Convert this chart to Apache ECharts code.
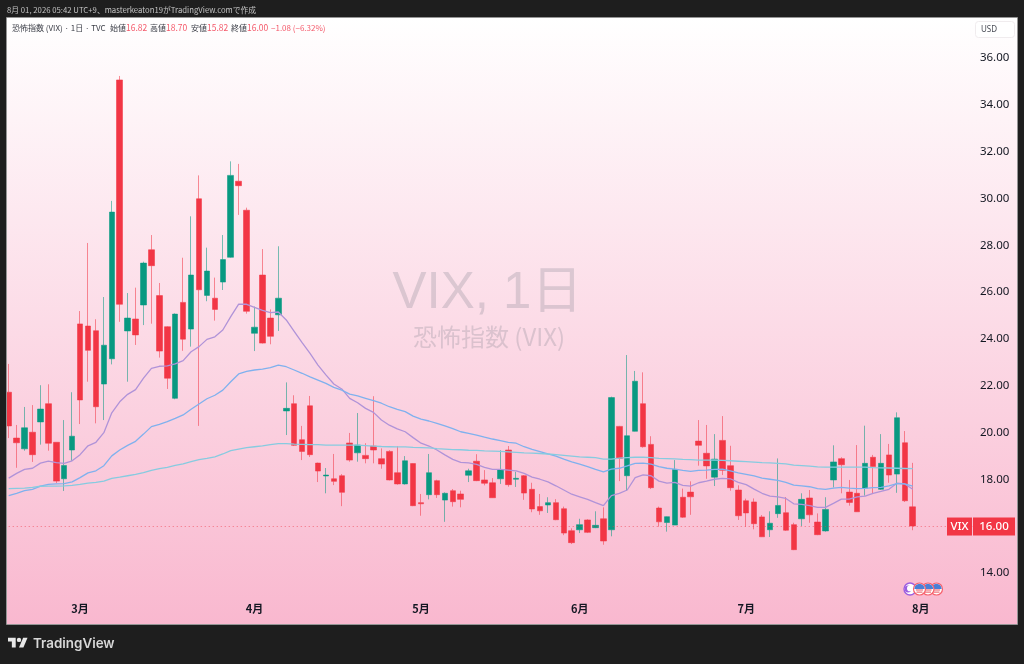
<!DOCTYPE html>
<html>
<head>
<meta charset="utf-8">
<style>html,body{margin:0;padding:0;background:#1e1e1e}#c{width:1024px;height:664px}</style>
<script src="https://cdn.jsdelivr.net/npm/echarts@6/dist/echarts.min.js"></script>
</head>
<body>
<div id="c"></div>
<script>
const categories = [
'02-17','02-18','02-19','02-20','02-23','02-24','02-25','02-26','02-27',
'03-02','03-03','03-04','03-05','03-06','03-09','03-10','03-11','03-12','03-13','03-16','03-17','03-18','03-19','03-20','03-23','03-24','03-25','03-26','03-27','03-30','03-31',
'04-01','04-02','04-06','04-07','04-08','04-09','04-10','04-13','04-14','04-15','04-16','04-17','04-20','04-21','04-22','04-23','04-24','04-27','04-28','04-29','04-30',
'05-01','05-04','05-05','05-06','05-07','05-08','05-11','05-12','05-13','05-14','05-15','05-18','05-19','05-20','05-21','05-22','05-26','05-27','05-28','05-29',
'06-01','06-02','06-03','06-04','06-05','06-08','06-09','06-10','06-11','06-12','06-15','06-16','06-17','06-18','06-22','06-23','06-24','06-25','06-26','06-29','06-30',
'07-01','07-02','07-06','07-07','07-08','07-09','07-10','07-13','07-14','07-15','07-16','07-17','07-20','07-21','07-22','07-23','07-24','07-27','07-28','07-29','07-30','07-31',
'08-03','08-04','08-05','08-06','08-07','08-10','08-11','08-12','08-13','08-14','08-17','08-18'];
const monthTicks = {'03-02':'3月','04-01':'4月','05-01':'5月','06-01':'6月','07-01':'7月','08-03':'8月'};

const opens = [21.72,19.76,19.30,20.01,20.45,21.23,19.58,18.02,19.25,24.64,24.55,24.35,22.07,23.15,35.07,24.34,24.85,25.45,27.81,25.85,24.52,21.46,25.56,24.42,29.99,25.86,25.74,26.43,27.49,30.74,29.50,
24.24,26.73,24.89,25.03,20.92,21.23,19.69,21.14,18.69,18.14,18.02,18.15,19.55,19.13,19.02,19.42,18.88,19.19,18.28,17.80,18.67,
17.00,17.34,17.94,17.11,17.51,17.37,18.17,18.77,17.97,17.85,18.02,19.25,18.00,18.15,17.57,16.83,16.90,17.00,16.74,15.80,
15.84,16.26,15.93,16.31,15.84,20.26,18.15,20.05,21.23,19.49,16.77,16.15,16.04,17.23,17.45,19.63,19.11,18.09,19.66,18.58,17.54,
17.08,17.03,16.39,15.84,16.53,16.57,16.06,16.31,17.20,16.17,15.79,17.97,18.88,17.45,17.40,17.62,18.94,17.57,19.04,18.22,19.56,16.82];
const closes = [20.28,19.56,20.20,19.05,21.00,19.54,17.92,18.59,19.84,21.39,23.51,21.10,23.73,29.42,25.48,24.89,24.17,27.24,27.13,23.48,22.32,25.06,23.99,26.73,26.10,26.90,25.26,27.39,30.99,30.55,25.18,
24.50,23.82,24.11,25.74,21.03,19.45,19.19,19.05,18.35,18.18,17.91,17.44,18.82,19.46,18.88,19.25,18.65,17.97,17.80,18.79,16.87,
16.95,18.28,17.34,17.40,17.04,17.14,18.36,17.94,17.83,17.21,18.39,17.77,18.04,17.41,16.73,16.65,17.00,16.27,15.70,15.29,
16.06,15.73,16.03,15.36,21.49,18.89,19.86,22.19,19.39,17.64,16.18,16.40,18.42,16.38,17.25,19.45,18.57,18.86,18.38,17.64,16.44,
16.56,16.10,15.54,16.12,16.88,15.82,14.99,17.14,16.48,15.63,16.71,18.74,18.62,17.01,16.61,18.68,18.54,18.68,18.18,20.63,17.08,16.00];
const lows = [19.76,18.49,19.22,18.74,19.48,19.22,17.84,17.50,18.79,20.36,22.17,20.39,20.53,22.91,24.73,22.17,23.74,24.59,24.65,23.20,21.86,21.42,23.49,23.67,20.28,25.61,24.78,26.09,27.47,29.30,25.08,
23.48,23.80,23.77,24.34,19.89,19.42,18.82,18.95,17.88,17.40,17.75,16.85,18.75,18.75,18.68,18.68,18.45,17.95,17.77,17.77,16.85,
16.44,17.14,17.20,16.18,16.83,16.80,17.88,17.92,17.74,17.20,17.80,17.68,17.67,17.12,16.59,16.48,16.56,16.25,15.61,15.23,
15.70,15.70,15.91,15.20,15.56,17.92,17.50,20.04,19.35,17.58,15.97,15.76,16.04,16.35,16.48,18.58,18.02,17.71,18.18,17.51,16.26,
15.97,15.86,15.53,15.53,16.35,15.79,14.97,16.00,16.14,15.61,15.76,17.65,17.40,16.87,16.60,17.30,17.40,17.54,17.85,17.42,17.03,15.82];
const highs = [22.93,20.32,21.09,21.17,22.02,22.06,19.58,20.53,21.72,25.19,28.10,24.84,25.79,29.90,35.24,25.96,26.19,27.30,28.44,26.39,24.54,25.09,27.47,29.24,30.99,27.90,26.62,28.44,31.59,31.48,29.61,
25.38,27.84,25.26,27.96,22.14,21.59,20.28,21.56,18.71,18.48,19.08,18.22,19.98,20.83,19.54,21.55,19.32,19.24,19.41,18.99,18.68,
17.37,19.08,17.98,17.44,17.58,17.51,18.45,19.07,18.39,18.05,19.24,19.42,18.32,18.18,17.85,17.37,17.23,17.15,16.83,15.90,
16.31,16.29,16.63,16.80,21.53,20.28,23.31,22.63,22.57,19.84,16.83,16.41,18.82,17.60,17.91,20.53,20.32,19.93,20.70,19.43,17.74,
17.17,17.18,16.47,16.63,18.89,17.24,16.14,17.40,17.54,16.54,17.23,19.45,18.94,17.97,19.46,20.29,19.04,19.93,19.51,20.86,20.06,18.70];

const maPurple = [18.05,18.25,18.42,18.47,18.69,18.77,18.71,18.68,18.79,19.05,19.43,19.58,19.99,20.84,21.31,21.63,21.83,22.32,22.74,22.83,22.85,22.93,23.07,23.45,23.67,23.98,24.09,24.38,24.95,25.49,25.48,
25.35,25.22,25.12,25.15,24.81,24.32,23.84,23.38,22.88,22.46,22.07,21.86,21.46,21.27,21.03,20.86,20.53,20.31,20.15,20.03,19.78,
19.54,19.42,19.25,19.04,18.85,18.72,18.70,18.64,18.51,18.42,18.42,18.39,18.36,18.25,18.09,18.00,17.89,17.72,17.54,17.36,
17.25,17.14,17.00,16.87,17.30,17.40,17.54,18.07,18.19,18.15,17.92,17.83,17.87,17.74,17.71,17.85,17.92,18.00,18.04,18.02,17.87,
17.77,17.58,17.40,17.28,17.25,17.18,16.95,16.93,16.87,16.80,16.80,16.97,17.15,17.15,17.25,17.28,17.40,17.48,17.57,17.83,17.80,17.57];
const maBlue = [17.30,17.40,17.51,17.57,17.71,17.78,17.80,17.81,17.89,18.07,18.27,18.36,18.58,19.00,19.25,19.45,19.62,19.93,20.25,20.35,20.46,20.60,20.75,20.99,21.22,21.44,21.59,21.81,22.17,22.50,22.61,
22.67,22.71,22.77,22.88,22.81,22.67,22.53,22.38,22.24,22.10,21.93,21.81,21.64,21.56,21.46,21.36,21.25,21.10,20.99,20.89,20.70,
20.57,20.49,20.39,20.28,20.16,20.03,19.96,19.89,19.80,19.72,19.65,19.58,19.54,19.39,19.28,19.18,19.08,18.99,18.86,18.74,
18.65,18.54,18.42,18.32,18.43,18.47,18.57,18.68,18.69,18.65,18.54,18.47,18.43,18.38,18.34,18.38,18.39,18.42,18.43,18.36,18.27,
18.21,18.14,18.05,18.00,17.95,17.87,17.75,17.72,17.68,17.60,17.57,17.62,17.65,17.62,17.60,17.61,17.64,17.65,17.72,17.81,17.80,17.71];
const maCyan = [17.60,17.61,17.62,17.65,17.70,17.71,17.71,17.72,17.74,17.78,17.83,17.87,17.92,18.04,18.09,18.15,18.21,18.28,18.38,18.45,18.51,18.59,18.66,18.75,18.84,18.89,18.96,19.08,19.22,19.29,19.35,
19.39,19.43,19.48,19.52,19.52,19.50,19.49,19.48,19.48,19.46,19.46,19.46,19.46,19.46,19.44,19.42,19.40,19.39,19.38,19.38,19.36,
19.35,19.34,19.31,19.29,19.27,19.26,19.24,19.23,19.21,19.20,19.19,19.17,19.15,19.13,19.12,19.10,19.08,19.05,19.02,18.99,
18.96,18.94,18.92,18.86,18.86,18.90,18.92,18.94,18.94,18.92,18.89,18.88,18.87,18.85,18.84,18.82,18.82,18.82,18.81,18.79,18.77,
18.75,18.73,18.71,18.70,18.68,18.66,18.60,18.58,18.56,18.53,18.52,18.52,18.52,18.52,18.52,18.52,18.50,18.49,18.48,18.47,18.46,18.45];

const headerText = '8月 01, 2026 05:42 UTC+9、masterkeaton19がTradingView.comで作成';
const symbolText = '恐怖指数 (VIX) · 1日 · TVC';
const ohlcLabels = ['始値','高値','安値','終値'];
const ohlcValues = ['16.82','18.70','15.82','16.00'];
const changeText = '−1.08 (−6.32%)';
const watermarkMain = 'VIX, 1日';
const watermarkSub = '恐怖指数 (VIX)';
const lastValue = 16;
const RED = '#f23645', GREEN = '#089981', DARK = '#1e1e1e', FONT = '"Noto Sans CJK JP","Noto Sans",sans-serif';

const STEP = 7.93;
const candleData = categories.slice(0, opens.length).map((_, i) => [opens[i], closes[i], lows[i], highs[i]]);

function txt(text, x, y, fill, size) {
  return {type:'text', z:101, silent:true, style:{text, x, y, fill, font:size+'px '+FONT, verticalAlign:'middle'}};
}
const legendX = [110,150,191,231], legendValX = [126,166,207,247];
const legendEls = [];
ohlcLabels.forEach((l,i)=>{
  legendEls.push(txt(l, legendX[i], 28, '#3a3d46', 8));
  legendEls.push(txt(ohlcValues[i], legendValX[i], 28, '#f4596a', 8.5));
});

function flag(cx, cy, dz) {
  const r = 6;
  return [
    {type:'circle', z:90+dz, silent:true, shape:{cx,cy,r}, style:{fill:'#fff', stroke:'#f7606c', lineWidth:1.2}},
    {type:'rect', z:91+dz, silent:true, shape:{x:cx-3.6,y:cy+0.5,width:7.2,height:1}, style:{fill:'#e8505c'}},
    {type:'rect', z:91+dz, silent:true, shape:{x:cx-3,y:cy+2.6,width:6,height:1}, style:{fill:'#e8505c'}},
    {type:'sector', z:92+dz, silent:true, shape:{cx,cy,r:r-0.8,r0:0,startAngle:Math.PI,endAngle:Math.PI*2}, style:{fill:'#4a7fd6'}}
  ];
}
const logoScale = 0.55, logoX = 8, logoY = 635.5;
const logoPts = (pts)=>pts.map(p=>[logoX+p[0]*logoScale, logoY+p[1]*logoScale]);

const chart = echarts.init(document.getElementById('c'), null, {renderer:'canvas'});
chart.setOption({
  animation:false,
  backgroundColor:DARK,
  grid:{left:4.735, width:127*STEP, top:11.4, height:608.2, containLabel:false},
  xAxis:{
    type:'category', data:categories, boundaryGap:true,
    axisLine:{show:false}, axisTick:{show:false}, splitLine:{show:false},
    axisLabel:{inside:true, margin:5, interval:(i,v)=>v in monthTicks, formatter:v=>monthTicks[v]||'',
      color:'#131722', fontSize:11, fontWeight:'bold', fontFamily:FONT, hideOverlap:false}
  },
  yAxis:{
    type:'value', position:'right', min:12, max:38, interval:2, scale:true,
    axisLine:{show:false}, axisTick:{show:false}, splitLine:{show:false},
    axisLabel:{inside:true, margin:2.5, color:'#131722', fontSize:11.5, fontFamily:'"Noto Sans",sans-serif',
      formatter:v=>(v>=14&&v<=36)?v.toFixed(2):''}
  },
  series:[
    {type:'candlestick', name:'VIX', data:candleData, barWidth:6, clip:true,
      itemStyle:{color:GREEN, color0:RED, borderColor:'rgba(8,153,129,0.55)', borderColor0:'rgba(242,54,69,0.55)', borderWidth:1},
      markLine:{silent:true, symbol:'none', animation:false, label:{show:false},
        lineStyle:{type:[1,3], color:'rgba(242,54,69,0.6)', width:1}, data:[{yAxis:lastValue}]}
    },
    {type:'line', name:'MA short', data:maPurple, showSymbol:false, symbol:'none', lineStyle:{color:'#b093d8', width:1.3}, silent:true, z:3},
    {type:'line', name:'MA mid', data:maBlue, showSymbol:false, symbol:'none', lineStyle:{color:'#7fb1ee', width:1.3}, silent:true, z:3},
    {type:'line', name:'MA long', data:maCyan, showSymbol:false, symbol:'none', lineStyle:{color:'#86cbe0', width:1.3}, silent:true, z:3},
    {type:'custom', name:'last', clip:false, silent:true, z:20, coordinateSystem:'cartesian2d',
      data:[[categories[114], lastValue]], encode:{x:0,y:1},
      renderItem:(params, api)=>{
        const y = api.coord([api.value(0), api.value(1)])[1];
        return {type:'group', children:[
          {type:'rect', shape:{x:947,y:y-8.5,width:25,height:18}, style:{fill:RED}},
          {type:'rect', shape:{x:973,y:y-8.5,width:42,height:18}, style:{fill:RED}},
          {type:'text', style:{text:'VIX', x:959.5, y:y+0.5, fill:'#fff', font:'500 11.5px "Noto Sans",sans-serif', align:'center', verticalAlign:'middle'}},
          {type:'text', style:{text:lastValue.toFixed(2), x:994, y:y+0.5, fill:'#fff', font:'500 11.5px "Noto Sans",sans-serif', align:'center', verticalAlign:'middle'}}
        ]};
      }
    }
  ],
  graphic:{elements:[
    {type:'rect', z:-10, silent:true, shape:{x:7,y:18,width:1010,height:606},
      style:{fill:new echarts.graphic.LinearGradient(0,0,0,1,[{offset:0,color:'#ffffff'},{offset:1,color:'#f9b8cf'}])}},
    {type:'text', z:0, silent:true, style:{text:watermarkMain, x:487.5, y:294, fill:'rgba(120,123,134,0.25)', font:'51px "Liberation Sans",'+FONT, align:'center', verticalAlign:'middle'}},
    {type:'text', z:0, silent:true, style:{text:watermarkSub, x:489, y:337, fill:'rgba(120,123,134,0.25)', font:'24px '+FONT, align:'center', verticalAlign:'middle'}},
    {type:'rect', z:100, silent:true, shape:{x:0,y:0,width:1024,height:18}, style:{fill:DARK}},
    {type:'rect', z:100, silent:true, shape:{x:0,y:624,width:1024,height:40}, style:{fill:DARK}},
    {type:'rect', z:100, silent:true, shape:{x:0,y:0,width:7,height:664}, style:{fill:DARK}},
    {type:'rect', z:100, silent:true, shape:{x:1017,y:0,width:7,height:664}, style:{fill:DARK}},
    {type:'rect', z:100, silent:true, shape:{x:6.5,y:17.5,width:1011,height:607}, style:{fill:'none', stroke:'rgba(190,190,190,0.75)', lineWidth:1}},
    txt(headerText, 7, 10, '#c4c4c4', 7.75),
    txt(symbolText, 12, 28, '#3a3d46', 8),
    ...legendEls,
    txt(changeText, 271, 28, '#f4596a', 8),
    {type:'rect', z:95, silent:true, shape:{x:975.5,y:21.5,width:39,height:16,r:3}, style:{fill:'#ffffff', stroke:'#f0ecee', lineWidth:1}},
    {type:'text', z:96, silent:true, style:{text:'USD', x:981,y:29.5, fill:'#4a4d56', font:'8px "Noto Sans",sans-serif', verticalAlign:'middle'}},
    {type:'circle', z:80, silent:true, shape:{cx:910,cy:589,r:6}, style:{fill:'#fff', stroke:'#9c5fe0', lineWidth:1.4}},
    {type:'circle', z:81, silent:true, shape:{cx:908,cy:589,r:3.4}, style:{fill:'#9c5fe0'}},
    {type:'circle', z:82, silent:true, shape:{cx:909.8,cy:588.4,r:2.8}, style:{fill:'#fff'}},
    ...flag(936.5,589,0),
    ...flag(928,589,3),
    ...flag(919.5,589,6),
    {type:'polygon', z:101, silent:true, shape:{points:logoPts([[14,22],[7,22],[7,11],[0,11],[0,4],[14,4]])}, style:{fill:'#e8e8e8'}},
    {type:'polygon', z:101, silent:true, shape:{points:logoPts([[28,22],[20,22],[27.5,4],[35.5,4]])}, style:{fill:'#e8e8e8'}},
    {type:'circle', z:101, silent:true, shape:{cx:logoX+20*logoScale,cy:logoY+8*logoScale,r:4*logoScale}, style:{fill:'#e8e8e8'}},
    {type:'text', z:101, silent:true, style:{text:'TradingView', x:33,y:644, fill:'#d8d8d8', font:'600 13.4px "Inter","Noto Sans",sans-serif', verticalAlign:'middle'}}
  ]}
});
</script>
</body>
</html>
